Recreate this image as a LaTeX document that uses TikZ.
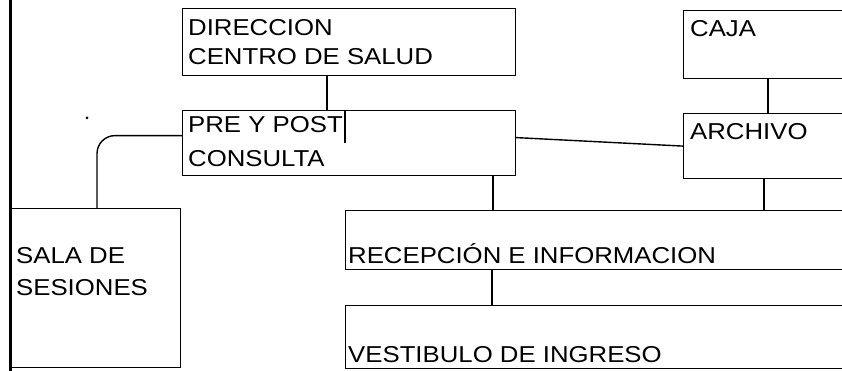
\documentclass[tikz,border=0pt]{standalone}
\usepackage{fontspec}
\setmainfont{Liberation Sans}[FakeStretch=1.12]
\begin{document}
\begin{tikzpicture}[x=1pt,y=-1pt,
  room/.style={draw=black,line width=1.2pt,rectangle,inner sep=0pt,anchor=north west},
  lbl/.style={anchor=base west,inner sep=0pt,font=\fontsize{23}{27}\selectfont},
  link/.style={draw=black,line width=1.4pt},
  wall/.style={draw=black,line width=3pt}]
\useasboundingbox (0,0) rectangle (842,371);
\fill[white] (0,0) rectangle (842,371);
\clip (0,0) rectangle (842,371);
% rooms
\node[room,minimum width=333pt,minimum height=67pt] (dir) at (182,8) {};
\node[room,minimum width=333pt,minimum height=65pt] (pre) at (182,110) {};
\node[room,minimum width=180pt,minimum height=68pt] (caja) at (683,10) {};
\node[room,minimum width=180pt,minimum height=65pt] (arch) at (683,113) {};
\node[room,minimum width=170pt,minimum height=159pt] (sala) at (10,208) {};
\node[room,minimum width=520pt,minimum height=59pt] (rec) at (345,210) {};
\node[room,minimum width=520pt,minimum height=63pt] (ves) at (345,305) {};
% labels
\node[lbl] (dirA) at (188,36) {DIRECCION};
\node[lbl] (dirB) at (188,65) {CENTRO DE SALUD};
\node[lbl] (preA) at (188,133) {PRE Y POST};
\node[lbl] (preB) at (188,167) {CONSULTA};
\node[lbl] (cajaT) at (690,37) {CAJA};
\node[lbl] (archT) at (690,140) {ARCHIVO};
\node[lbl] (salaA) at (16,263) {SALA DE};
\node[lbl] (salaB) at (16,295) {SESIONES};
\node[lbl] (recT) at (348,263) {RECEPCIÓN E INFORMACION};
\node[lbl] (vesT) at (348,362) {VESTIBULO DE INGRESO};
% wall
\coordinate (wtop) at (10.5,0);
\coordinate (wbot) at (10.5,371);
\draw[wall] (wtop) -- (wbot);
% connectors
\draw[link] ([xshift=145pt]dir.south west) -- ([xshift=145pt]pre.north west);
\draw[link] ([xshift=163pt]pre.north west) -- ([xshift=163pt,yshift=-33pt]pre.north west);
\draw[link,rounded corners=18pt] ([yshift=7.5pt]pre.west) -| ([xshift=87pt]sala.north west);
\draw[link] ([yshift=5.5pt]pre.east) -- (arch.west);
\draw[link] ([xshift=85pt]caja.south west) -- ([xshift=85pt]caja.south west |- arch.north);
\draw[link] ([xshift=81pt]arch.south west) -- ([xshift=81pt]arch.south west |- rec.north);
\draw[link] ([xshift=311pt]pre.south west) -- ([xshift=311pt]pre.south west |- rec.north);
\draw[link] ([xshift=147pt]rec.south west) -- ([xshift=147pt]rec.south west |- ves.north);
% dot
\fill (87,118) circle (1.5pt);
\end{tikzpicture}
\end{document}
